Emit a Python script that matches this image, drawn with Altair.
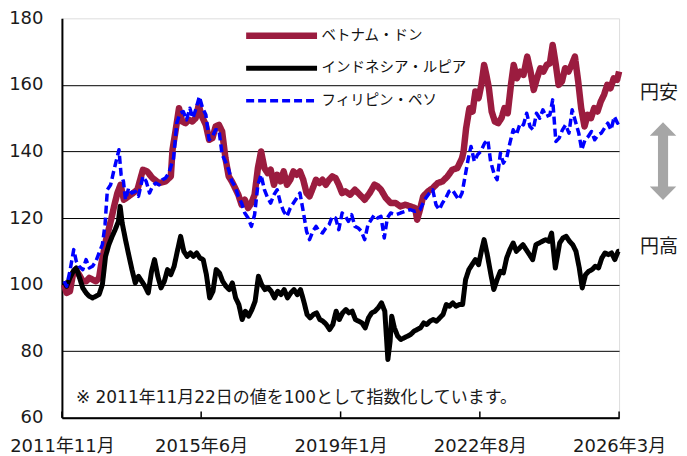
import altair as alt
import pandas as pd

series_names = ["ベトナム・ドン", "インドネシア・ルピア", "フィリピン・ペソ"]
series_colors = ["#9B1C3F", "#000000", "#0000FF"]

vnd_dates = ["2011-11-22", "2011-12-15", "2012-01-15", "2012-02-15", "2012-03-10", "2012-04-10",
             "2012-05-15", "2012-06-15", "2012-07-15", "2012-08-15", "2012-09-15", "2012-10-15",
             "2012-11-01", "2012-12-20", "2013-02-05", "2013-03-05", "2013-04-05", "2013-05-05",
             "2013-06-05", "2013-08-10", "2013-10-10", "2013-12-01", "2014-01-10", "2014-03-01",
             "2014-05-01", "2014-07-01", "2014-08-20", "2014-09-05", "2014-10-05", "2014-11-05",
             "2014-12-05", "2015-01-05", "2015-02-05", "2015-03-10", "2015-04-10", "2015-05-10",
             "2015-06-01", "2015-07-15", "2015-08-15", "2015-09-15", "2015-10-15", "2015-11-15",
             "2015-12-15", "2016-01-15", "2016-02-15", "2016-03-15", "2016-04-15", "2016-05-15",
             "2016-06-15", "2016-07-15", "2016-08-15", "2016-09-15", "2016-10-15", "2016-11-15",
             "2016-12-15", "2017-01-15", "2017-02-15", "2017-03-15", "2017-04-15", "2017-05-15",
             "2017-06-15", "2017-07-15", "2017-08-15", "2017-09-15", "2017-10-15", "2017-11-15",
             "2017-12-15", "2018-01-15", "2018-02-15", "2018-03-15", "2018-04-15", "2018-05-15",
             "2018-06-15", "2018-07-15", "2018-08-15", "2018-09-15", "2018-10-15", "2018-11-15",
             "2018-12-15", "2019-01-15", "2019-02-15", "2019-04-01", "2019-05-15", "2019-07-01",
             "2019-08-15", "2019-10-01", "2019-11-15", "2019-12-15", "2020-01-15", "2020-03-01",
             "2020-04-15", "2020-06-01", "2020-07-15", "2020-09-01", "2020-10-15", "2020-12-01",
             "2020-12-20", "2021-01-15", "2021-02-15", "2021-04-01", "2021-05-15", "2021-07-01",
             "2021-08-15", "2021-10-01", "2021-11-15", "2022-01-01", "2022-02-15", "2022-03-01",
             "2022-03-25", "2022-04-25", "2022-05-25", "2022-06-20", "2022-07-20", "2022-08-15",
             "2022-09-10", "2022-10-01", "2022-10-25", "2022-11-20", "2022-12-20", "2023-01-20",
             "2023-02-20", "2023-03-20", "2023-04-20", "2023-05-20", "2023-06-15", "2023-07-15",
             "2023-08-15", "2023-09-15", "2023-10-20", "2023-11-20", "2023-12-20", "2024-01-20",
             "2024-02-20", "2024-03-20", "2024-04-20", "2024-05-20", "2024-06-15", "2024-07-15",
             "2024-08-10", "2024-09-10", "2024-10-10", "2024-11-10", "2024-12-10", "2025-01-10",
             "2025-02-10", "2025-03-10", "2025-04-10", "2025-05-10", "2025-06-10", "2025-07-10",
             "2025-08-10", "2025-09-10", "2025-10-10", "2025-11-10", "2025-12-10", "2026-01-10",
             "2026-02-10", "2026-03-01"]
vnd_values = [100, 97.5, 98, 103.5, 104.5, 103,
              101, 101, 102, 101.5, 101, 102,
              105.5, 113.5, 119.5, 123.5, 127.5, 130,
              125.5, 127, 128.5, 134.5, 134, 132,
              130.5, 131, 132.5, 140.5, 146.5, 153,
              149, 148.5, 149.5, 149, 150, 154,
              151, 148, 143.5, 144, 147.5, 148,
              146, 138, 132.5, 131, 129, 127,
              124, 125.5, 123, 124.5, 127, 135,
              140, 135, 133.5, 134.5, 130, 133,
              131, 134, 130, 131.5, 134, 133,
              134, 131.5, 127.5, 126.5, 129, 131.5,
              130.5, 131.5, 130, 131.5, 132.5, 132,
              130, 127.5, 128, 127, 128.5, 127,
              125.5, 127.5, 130, 129.5, 128.5, 126,
              124.5, 124.5, 123.5, 124, 123.5, 123,
              119.5, 122.5, 126.5, 128, 129, 130.5,
              131, 132.5, 134.5, 135, 138, 140,
              147, 153, 152, 158, 156, 160,
              166, 163, 159, 152, 149, 148.5,
              150, 153, 151.5, 160, 166, 162,
              164, 163, 168.5, 164, 158.5, 162,
              165, 164, 166, 166.5, 172, 166,
              160, 161, 165, 164, 166, 168.5,
              161, 153, 147.5, 151, 150, 153,
              152, 155, 157, 160, 159, 162,
              161.5, 164]

idr_dates = ["2011-11-22", "2011-12-15", "2012-01-15", "2012-02-15", "2012-03-15", "2012-04-15",
             "2012-05-15", "2012-06-15", "2012-07-15", "2012-08-15", "2012-09-15", "2012-10-15",
             "2012-11-15", "2012-12-15", "2013-01-15", "2013-02-15", "2013-03-15", "2013-04-15",
             "2013-05-01", "2013-05-20", "2013-06-20", "2013-07-20", "2013-08-20", "2013-09-20",
             "2013-10-20", "2013-11-20", "2013-12-20", "2014-01-20", "2014-02-20", "2014-03-20",
             "2014-04-20", "2014-05-20", "2014-06-20", "2014-07-20", "2014-08-20", "2014-09-20",
             "2014-10-20", "2014-11-20", "2014-12-20", "2015-01-20", "2015-02-20", "2015-03-20",
             "2015-04-20", "2015-05-20", "2015-06-20", "2015-07-20", "2015-08-20", "2015-09-20",
             "2015-10-20", "2015-11-20", "2015-12-20", "2016-01-20", "2016-02-20", "2016-03-20",
             "2016-04-20", "2016-05-20", "2016-06-20", "2016-07-20", "2016-08-20", "2016-09-20",
             "2016-10-20", "2016-11-20", "2016-12-20", "2017-01-20", "2017-02-20", "2017-03-20",
             "2017-04-20", "2017-05-20", "2017-06-20", "2017-07-20", "2017-08-20", "2017-09-20",
             "2017-10-20", "2017-11-20", "2017-12-20", "2018-01-20", "2018-02-20", "2018-03-20",
             "2018-04-20", "2018-05-20", "2018-06-20", "2018-07-20", "2018-08-20", "2018-09-20",
             "2018-10-20", "2018-11-20", "2018-12-20", "2019-01-20", "2019-02-20", "2019-03-20",
             "2019-04-20", "2019-05-20", "2019-06-20", "2019-07-20", "2019-08-20", "2019-09-20",
             "2019-10-20", "2019-11-20", "2019-12-20", "2020-01-20", "2020-02-20", "2020-03-20",
             "2020-04-10", "2020-04-25", "2020-05-20", "2020-06-20", "2020-07-20", "2020-08-20",
             "2020-09-20", "2020-10-20", "2020-11-20", "2020-12-20", "2021-01-20", "2021-02-20",
             "2021-03-20", "2021-04-20", "2021-05-20", "2021-06-20", "2021-07-20", "2021-08-20",
             "2021-09-20", "2021-10-20", "2021-11-20", "2021-12-20", "2022-01-20", "2022-02-20",
             "2022-03-20", "2022-04-20", "2022-05-20", "2022-06-20", "2022-07-20", "2022-08-15",
             "2022-09-10", "2022-10-10", "2022-11-10", "2022-12-10", "2023-01-10", "2023-02-10",
             "2023-03-10", "2023-04-10", "2023-05-10", "2023-06-10", "2023-07-10", "2023-08-10",
             "2023-09-10", "2023-10-10", "2023-11-10", "2023-12-10", "2024-01-10", "2024-02-10",
             "2024-03-10", "2024-04-10", "2024-05-10", "2024-06-05", "2024-07-10", "2024-08-20",
             "2024-09-20", "2024-10-20", "2024-11-20", "2024-12-20", "2025-01-20", "2025-02-20",
             "2025-03-20", "2025-04-20", "2025-05-20", "2025-06-20", "2025-07-20", "2025-08-20",
             "2025-09-20", "2025-10-20", "2025-11-20", "2025-12-20", "2026-01-20", "2026-02-20",
             "2026-03-01"]
idr_values = [101, 99.5, 102, 104, 105, 102,
              99, 97.5, 96.5, 96, 96.5, 97,
              100, 108.5, 112, 114.5, 116.5, 119,
              123.5, 118.5, 113.5, 109, 104.5, 100.5,
              102.5, 101, 99.5, 97.5, 104, 107.5,
              102.5, 99, 101, 104.5, 103, 105.5,
              110, 114.5, 110, 108.5, 109.5, 108.5,
              109.5, 108, 107.5, 103, 96, 98,
              104.5, 103.5, 101, 99.5, 98.5, 100.5,
              96, 94, 89.5, 92, 90.5, 92.5,
              95, 102.5, 100, 98.5, 99, 98,
              96, 98, 97, 98.5, 96, 97.5,
              98.5, 97, 98.5, 95, 91, 90,
              91, 91.5, 89.5, 89, 88, 86.5,
              88, 92, 89.5, 91.5, 92.5, 91.5,
              92, 89.5, 89, 88.5, 87, 90,
              91.5, 92, 93, 94.5, 92, 77.5,
              83, 90.5, 87, 84.5, 83.5, 84,
              84.5, 85, 86, 86.5, 87, 88.5,
              88, 89, 89.5, 89, 90, 91,
              94, 93.5, 94.5, 93.5, 94, 94,
              101.5, 104.5, 106, 107.5, 106, 110,
              113.5, 109, 103.5, 98.5, 101.5, 104,
              103.5, 108, 110.5, 112.5, 110, 111,
              112, 110.5, 109, 107.5, 112, 112.5,
              113, 113.5, 113, 115.5, 105, 112.5,
              114, 114.5, 113, 112, 110, 105,
              99, 103, 104, 104.5, 105.5, 105,
              108, 109.5, 109, 109.5, 107.5, 110,
              110]

php_dates = ["2011-11-22", "2011-12-15", "2012-01-15", "2012-02-20", "2012-03-15", "2012-04-10",
             "2012-05-15", "2012-06-15", "2012-07-15", "2012-08-15", "2012-09-15", "2012-10-15",
             "2012-11-15", "2012-12-10", "2013-01-01", "2013-02-01", "2013-03-01", "2013-03-20",
             "2013-04-20", "2013-05-10", "2013-06-01", "2013-06-20", "2013-07-20", "2013-08-20",
             "2013-09-20", "2013-10-20", "2013-12-01", "2014-01-01", "2014-02-01", "2014-03-01",
             "2014-04-01", "2014-05-01", "2014-06-01", "2014-07-01", "2014-08-01", "2014-09-15",
             "2014-10-15", "2014-11-15", "2014-12-15", "2015-01-15", "2015-02-15", "2015-03-15",
             "2015-04-15", "2015-05-15", "2015-06-15", "2015-07-15", "2015-08-15", "2015-09-15",
             "2015-10-15", "2015-11-15", "2015-12-15", "2016-01-15", "2016-02-15", "2016-03-15",
             "2016-04-15", "2016-05-15", "2016-06-15", "2016-07-15", "2016-08-15", "2016-09-15",
             "2016-10-15", "2016-11-15", "2016-12-15", "2017-01-15", "2017-02-15", "2017-03-15",
             "2017-04-15", "2017-05-15", "2017-06-15", "2017-07-15", "2017-08-15", "2017-09-15",
             "2017-10-15", "2017-11-15", "2017-12-15", "2018-01-15", "2018-02-15", "2018-03-15",
             "2018-04-15", "2018-05-15", "2018-06-15", "2018-07-15", "2018-08-15", "2018-09-15",
             "2018-10-15", "2018-11-15", "2018-12-15", "2019-01-15", "2019-02-15", "2019-03-15",
             "2019-04-15", "2019-05-15", "2019-06-15", "2019-07-15", "2019-08-15", "2019-09-15",
             "2019-10-15", "2019-11-15", "2019-12-15", "2020-01-15", "2020-02-15", "2020-03-15",
             "2020-04-15", "2020-06-01", "2020-07-15", "2020-09-01", "2020-10-15", "2020-12-01",
             "2021-01-15", "2021-03-01", "2021-04-15", "2021-05-15", "2021-06-15", "2021-07-15",
             "2021-08-15", "2021-09-15", "2021-10-15", "2021-11-15", "2021-12-15", "2022-01-15",
             "2022-02-15", "2022-03-15", "2022-04-15", "2022-05-10", "2022-06-10", "2022-07-10",
             "2022-08-10", "2022-09-15", "2022-10-15", "2022-11-10", "2022-12-15", "2023-01-10",
             "2023-02-10", "2023-03-10", "2023-04-10", "2023-05-10", "2023-06-10", "2023-07-10",
             "2023-08-15", "2023-09-15", "2023-10-15", "2023-11-15", "2023-12-15", "2024-01-15",
             "2024-02-15", "2024-03-15", "2024-04-15", "2024-05-20", "2024-06-15", "2024-07-15",
             "2024-08-15", "2024-09-15", "2024-10-15", "2024-11-15", "2024-12-15", "2025-01-15",
             "2025-02-15", "2025-03-15", "2025-04-15", "2025-05-15", "2025-06-15", "2025-07-15",
             "2025-08-15", "2025-09-15", "2025-10-15", "2025-11-15", "2025-12-15", "2026-01-15",
             "2026-02-15", "2026-03-01"]
php_values = [101, 99.5, 104, 110.5, 107, 105.5,
              104.5, 107.5, 105, 105.5, 107, 109.5,
              112, 118, 128.5, 130, 134, 136.5,
              140.5, 133, 131, 125.5, 129, 127.5,
              128, 126.5, 132.5, 131, 127.5, 129.5,
              130.5, 130, 131.5, 132, 133.5, 138,
              148.5, 151.5, 152, 149.5, 153, 150,
              153, 156.5, 153, 151, 143.5, 144.5,
              146.5, 146.5, 139, 137, 134.5, 131,
              129.5, 126.5, 124.5, 121.5, 120, 117.5,
              121, 130, 133, 128.5, 126, 124.5,
              127, 128.5, 124.5, 122, 120.5, 123,
              124.5, 126, 127.5, 122, 116, 113.5,
              116, 117.5, 116, 115.5, 117, 118,
              120.5, 120, 116.5, 121.5, 120.5, 119,
              121, 117.5, 117, 116, 113.5, 118,
              119.5, 121, 120, 120.5, 114, 120,
              121.5, 121, 121.5, 122, 122.5, 122,
              122.5, 125.5, 127.5, 128.5, 124, 122.5,
              124.5, 126, 128, 128.5, 127, 125.5,
              127.5, 132.5, 138, 141.5, 137, 139,
              140, 142.5, 143.5, 137, 133, 131.5,
              139.5, 136.5, 138, 142.5, 146.5, 145,
              148.5, 148, 151.5, 147.5, 146.5, 151.5,
              150, 152.5, 150.5, 151, 155.5, 143,
              144, 146.5, 148, 145.5, 152.5, 149,
              145.5, 140.5, 143.5, 144.5, 146, 143.5,
              145, 145.5, 147, 148.5, 146.5, 150.5,
              148.5, 149]

tick_dates = ["2011-11-01", "2015-06-01", "2019-01-01", "2022-08-01", "2026-03-01"]
y_ticks = [60, 80, 100, 120, 140, 160, 180]
note_text = "※ 2011年11月22日の値を100として指数化しています。"
label_weak = "円安"
label_strong = "円高"

FONT = "DejaVu Sans, Noto Sans CJK JP"
JFONT = "Noto Sans CJK JP"
TEXT_COLOR = "#1a1a1a"

df = pd.concat([
    pd.DataFrame({"date": vnd_dates, "value": vnd_values, "series": series_names[0]}),
    pd.DataFrame({"date": idr_dates, "value": idr_values, "series": series_names[1]}),
    pd.DataFrame({"date": php_dates, "value": php_values, "series": series_names[2]}),
], ignore_index=True)

x_scale = alt.Scale(type="utc", domain=[alt.DateTime(year=2011, month=11, date=1, utc=True),
                                        alt.DateTime(year=2026, month=3, date=1, utc=True)])
y_scale = alt.Scale(domain=[60, 180], nice=False, zero=False)

tick_vals = []
for d in tick_dates:
    yy, mm, dd = (int(p) for p in d.split("-"))
    tick_vals.append(alt.DateTime(year=yy, month=mm, date=dd, utc=True))

x_axis = alt.Axis(values=tick_vals, labelExpr="utcFormat(datum.value, '%Y年%-m月')", title=None,
                  tickSize=0, labelPadding=20, domainColor="black", domainWidth=2, grid=False,
                  labelFlush=False, labelOverlap=False, labelFont=FONT, labelFontSize=18,
                  labelColor=TEXT_COLOR)
y_axis = alt.Axis(values=y_ticks, title=None, tickSize=0, labelPadding=19, domainColor="black",
                  domainWidth=2, gridWidth=1,
                  gridColor={"condition": {"test": "datum.value >= 180", "value": "transparent"},
                             "value": "black"},
                  labelFont=FONT, labelFontSize=18, labelColor=TEXT_COLOR)

legend = alt.Legend(title=None, orient="none", legendX=181, legendY=5, symbolType="stroke",
                    symbolSize=5041, clipHeight=25, rowPadding=7.5, labelFontSize=14.5,
                    labelFont=JFONT, labelColor="#111111", labelOffset=1, padding=0)

base = alt.Chart(df).mark_line(strokeJoin="round", strokeCap="butt").encode(
    x=alt.X("date:T", scale=x_scale, axis=x_axis),
    y=alt.Y("value:Q", scale=y_scale, axis=y_axis),
    color=alt.Color("series:N", scale=alt.Scale(domain=series_names, range=series_colors), legend=legend),
    strokeDash=alt.StrokeDash("series:N", scale=alt.Scale(domain=series_names, range=[[1, 0], [1, 0], [8, 4]]), legend=legend),
    strokeWidth=alt.StrokeWidth("series:N", scale=alt.Scale(domain=series_names, range=[6.5, 3.5]), legend=legend),
)

line_layers = [base.transform_filter(alt.datum.series == s) for s in series_names]

ticks = alt.Chart(pd.DataFrame({"date": tick_dates})).mark_rule(color="black", strokeWidth=1.5).encode(
    x=alt.X("date:T"),
    y=alt.datum(60),
    y2=alt.datum(61.9),
)

note = alt.Chart(pd.DataFrame({"t": [note_text]})).mark_text(
    align="left", baseline="middle", font=FONT, fontSize=17, color=TEXT_COLOR
).encode(text="t:N", x=alt.value(14), y=alt.datum(66))

weak = alt.Chart(pd.DataFrame({"t": [label_weak]})).mark_text(
    align="center", baseline="middle", font=JFONT, fontSize=19, color=TEXT_COLOR
).encode(text="t:N", x=alt.value(598), y=alt.datum(157.5))

strong = alt.Chart(pd.DataFrame({"t": [label_strong]})).mark_text(
    align="center", baseline="middle", font=JFONT, fontSize=19, color=TEXT_COLOR
).encode(text="t:N", x=alt.value(598), y=alt.datum(111.3))

arrow_path = ("M0,-1 L0.34,-0.65 L0.13,-0.65 L0.13,0.65 L0.34,0.65 L0,1 "
              "L-0.34,0.65 L-0.13,0.65 L-0.13,-0.65 L-0.34,-0.65 Z")
arrow = alt.Chart(pd.DataFrame({"t": [label_weak]})).mark_point(
    shape=arrow_path, size=6084, filled=True, color="#A6A6A6", opacity=1, strokeWidth=0
).encode(x=alt.value(602), y=alt.datum(137.1))

chart = alt.layer(*line_layers, ticks, note, weak, strong, arrow).properties(
    width=558, height=400,
    padding={"left": 0, "top": 1, "right": 0, "bottom": 0},
).configure_view(stroke="#A6A6A6", strokeWidth=2).configure(background="white")

chart.save("out.html", embed_options={"renderer": "svg", "actions": False})
